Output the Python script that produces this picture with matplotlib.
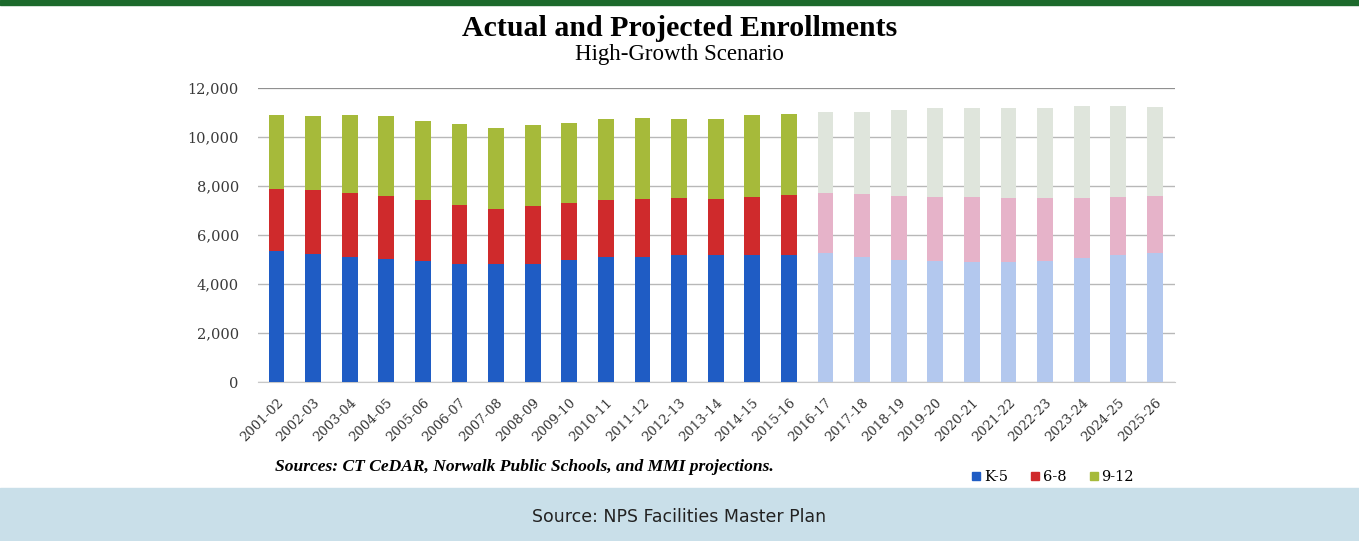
import matplotlib.pyplot as plt
import matplotlib.patches as mpatches
import numpy as np

# School years shown on the x axis
years = ['2001-02', '2002-03', '2003-04', '2004-05', '2005-06', '2006-07', '2007-08',
         '2008-09', '2009-10', '2010-11', '2011-12', '2012-13', '2013-14', '2014-15',
         '2015-16', '2016-17', '2017-18', '2018-19', '2019-20', '2020-21', '2021-22',
         '2022-23', '2023-24', '2024-25', '2025-26']
n_actual = 15  # 2001-02 .. 2015-16 are actual, the rest projected

k5 = [5340, 5230, 5120, 5020, 4920, 4800, 4800, 4830, 4960, 5100, 5100, 5190, 5190,
      5190, 5190, 5260, 5100, 4990, 4930, 4890, 4890, 4930, 5070, 5190, 5260]
g68 = [2520, 2590, 2600, 2590, 2490, 2420, 2270, 2370, 2340, 2340, 2380, 2310, 2290,
       2380, 2450, 2450, 2580, 2620, 2640, 2650, 2610, 2570, 2450, 2350, 2350]
g912 = [3040, 3030, 3160, 3230, 3260, 3310, 3290, 3290, 3290, 3300, 3300, 3240, 3260,
        3320, 3290, 3300, 3360, 3490, 3600, 3630, 3670, 3670, 3730, 3710, 3620]

yticks = [0, 2000, 4000, 6000, 8000, 10000, 12000]

# colours: actual / projected
blue, red, green = '#1f5cc4', '#cf2a2c', '#a6ba3a'
lblue, pink, lgreen = '#b3c8ee', '#e6b3c9', '#dfe5dc'

fig = plt.figure(figsize=(13.59, 5.41), dpi=100)
fig.patch.set_facecolor('white')

# green band on top, light blue band at the bottom
fig.patches.append(mpatches.Rectangle((0, 0.99), 1, 0.01, transform=fig.transFigure,
                                      color='#1c6a2c', zorder=0))
fig.patches.append(mpatches.Rectangle((0, 0), 1, 0.098, transform=fig.transFigure,
                                      color='#c9dfe9', zorder=0))

ax = fig.add_axes([0.19, 0.2939, 0.6746, 0.5434])
x = np.arange(len(years))
k5 = np.array(k5)
g68 = np.array(g68)
g912 = np.array(g912)

c_k5 = [blue] * n_actual + [lblue] * (len(years) - n_actual)
c_68 = [red] * n_actual + [pink] * (len(years) - n_actual)
c_912 = [green] * n_actual + [lgreen] * (len(years) - n_actual)

w = 0.43
ax.bar(x, k5, w, color=c_k5, zorder=3)
ax.bar(x, g68, w, bottom=k5, color=c_68, zorder=3)
ax.bar(x, g912, w, bottom=k5 + g68, color=c_912, zorder=3)

ax.set_xlim(-0.5, 24.55)
ax.set_ylim(0, 12000)
ax.set_yticks(yticks)
ax.set_yticklabels([f'{v:,}' for v in yticks], fontsize=10.5, family='DejaVu Serif',
                   color='#3a3a3a')
ax.set_xticks(x)
ax.set_xticklabels(years, rotation=45, ha='right', rotation_mode='anchor',
                   fontsize=9.5, family='DejaVu Serif', color='#333333')
ax.tick_params(axis='y', length=0, pad=14)
ax.tick_params(axis='x', length=0, pad=10)
ax.yaxis.grid(True, color='#b8b8b8', lw=1, zorder=0)
ax.set_axisbelow(True)
for s in ['left', 'right', 'top']:
    ax.spines[s].set_visible(False)
ax.spines['bottom'].set_color('#c8c8c8')
ax.axhline(12000, color='#888888', lw=1.2, zorder=1)

fig.text(0.5, 0.948, 'Actual and Projected Enrollments', ha='center', va='center',
         fontsize=21.5, fontweight='bold', family='Liberation Serif')
fig.text(0.5, 0.899, 'High-Growth Scenario', ha='center', va='center',
         fontsize=16.5, family='Liberation Serif')
fig.text(0.2024, 0.137, 'Sources: CT CeDAR, Norwalk Public Schools, and MMI projections.',
         ha='left', va='center', fontsize=12.6, fontstyle='italic', fontweight='bold',
         family='Liberation Serif')

handles = [mpatches.Patch(color=blue, label='K-5'),
           mpatches.Patch(color=red, label='6-8'),
           mpatches.Patch(color=green, label='9-12')]
fig.legend(handles=handles, loc='center', bbox_to_anchor=(0.775, 0.118), ncol=3,
           frameon=False, handlelength=0.55, handleheight=0.55, handletextpad=0.25,
           columnspacing=1.6, prop={'family': 'DejaVu Serif', 'size': 10.5})

fig.text(0.5, 0.044, 'Source: NPS Facilities Master Plan', ha='center', va='center',
         fontsize=12.5, family='DejaVu Sans', color='#222222')

fig.savefig('out.png', dpi=100)
